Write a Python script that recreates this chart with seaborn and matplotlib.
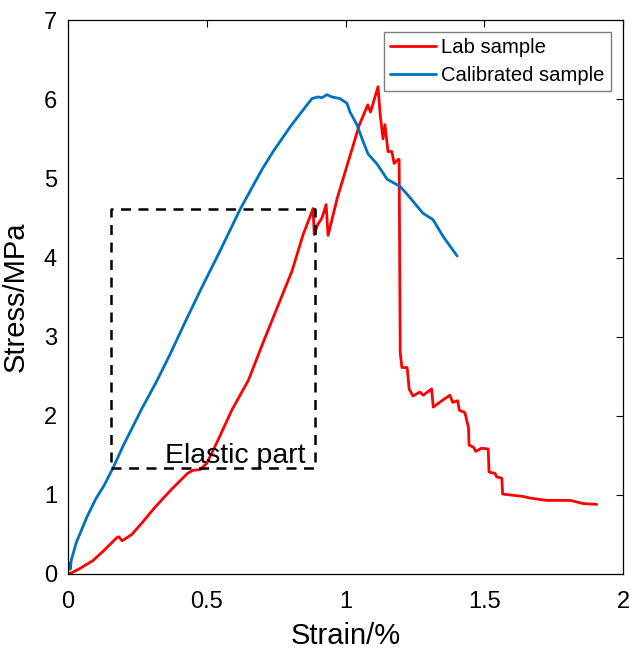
import matplotlib
matplotlib.use("Agg")
import matplotlib.pyplot as plt
import seaborn as sns
import pandas as pd

# Lab sample curve (strain %, stress MPa)
lab_strain = [0, 0.01, 0.043, 0.09, 0.13, 0.176, 0.183, 0.195, 0.23, 0.27, 0.31, 0.37,
              0.43, 0.45, 0.476, 0.50, 0.54, 0.59, 0.65, 0.70, 0.739, 0.807, 0.847, 0.87,
              0.883, 0.887, 0.90, 0.915, 0.93, 0.937, 0.97, 1.00, 1.05, 1.08, 1.09, 1.117,
              1.125, 1.135, 1.142, 1.153, 1.167, 1.175, 1.189, 1.193, 1.195, 1.197, 1.203,
              1.222, 1.229, 1.243, 1.268, 1.28, 1.31, 1.316, 1.347, 1.376, 1.386, 1.404,
              1.41, 1.43, 1.443, 1.445, 1.462, 1.469, 1.49, 1.514, 1.517, 1.539, 1.544,
              1.563, 1.566, 1.64, 1.665, 1.725, 1.81, 1.857, 1.905]
lab_stress = [0, 0.01, 0.07, 0.17, 0.30, 0.46, 0.47, 0.42, 0.50, 0.66, 0.83, 1.06,
              1.27, 1.31, 1.32, 1.40, 1.69, 2.07, 2.45, 2.90, 3.24, 3.83, 4.29, 4.50,
              4.62, 4.29, 4.42, 4.50, 4.67, 4.28, 4.75, 5.10, 5.68, 5.93, 5.84, 6.16,
              5.80, 5.50, 5.68, 5.34, 5.34, 5.19, 5.24, 5.24, 4.00, 2.80, 2.61,
              2.61, 2.34, 2.25, 2.30, 2.26, 2.34, 2.11, 2.19, 2.26, 2.17, 2.19,
              2.07, 2.04, 1.85, 1.63, 1.60, 1.55, 1.59, 1.58, 1.29, 1.27, 1.23,
              1.21, 1.01, 0.98, 0.96, 0.93, 0.93, 0.89, 0.88]

# Calibrated sample curve
cal_strain = [0, 0.004, 0.008, 0.012, 0.03, 0.068, 0.10, 0.13, 0.162, 0.20, 0.266, 0.32,
              0.368, 0.42, 0.476, 0.55, 0.62, 0.656, 0.70, 0.739, 0.80, 0.85, 0.879, 0.901,
              0.915, 0.933, 0.951, 0.98, 1.005, 1.016, 1.041, 1.063, 1.081, 1.114, 1.15,
              1.196, 1.222, 1.279, 1.315, 1.351, 1.402]
cal_stress = [0.05, 0.14, 0.06, 0.18, 0.40, 0.72, 0.95, 1.12, 1.34, 1.63, 2.09, 2.44,
              2.78, 3.17, 3.58, 4.10, 4.61, 4.84, 5.12, 5.34, 5.65, 5.88, 6.01, 6.03,
              6.02, 6.06, 6.03, 6.01, 5.95, 5.84, 5.68, 5.47, 5.31, 5.18, 4.99,
              4.90, 4.80, 4.56, 4.48, 4.27, 4.02]

# dashed "elastic part" box corners
box_strain = [0.155, 0.89]
box_stress = [1.335, 4.62]

series_names = ["Lab sample", "Calibrated sample"]
colors = {"Lab sample": "#FF0000", "Calibrated sample": "#0072BD"}

df = pd.concat([
    pd.DataFrame({"strain": lab_strain, "stress": lab_stress, "sample": series_names[0]}),
    pd.DataFrame({"strain": cal_strain, "stress": cal_stress, "sample": series_names[1]}),
], ignore_index=True)

sns.set_style("white")
plt.rcParams['font.family'] = ['Liberation Sans', 'DejaVu Sans']
plt.rcParams.update({"text.color": "black", "axes.labelcolor": "black",
                     "xtick.color": "black", "ytick.color": "black"})

fig = plt.figure(figsize=(6.3, 6.53), dpi=100)
ax = fig.add_axes([0.108, 0.121, 0.881, 0.848])

sns.lineplot(data=df, x="strain", y="stress", hue="sample", hue_order=series_names,
             palette=colors, sort=False, estimator=None, linewidth=2, ax=ax)

# elastic part box
bx = [box_strain[0], box_strain[1], box_strain[1], box_strain[0], box_strain[0]]
by = [box_stress[0], box_stress[0], box_stress[1], box_stress[1], box_stress[0]]
ax.plot(bx, by, color="black", linestyle=(0, (4, 3)), linewidth=1.8)
ax.text(0.35, 1.40, "Elastic part", fontsize=20.5, ha="left", va="baseline")

ax.set_xlim(0, 2)
ax.set_ylim(0, 7)
ax.set_xticks([0, 0.5, 1, 1.5, 2])
ax.set_xticklabels(["0", "0.5", "1", "1.5", "2"])
ax.set_yticks(range(0, 8))
ax.tick_params(direction="in", top=True, right=True, length=5, width=0.8,
               labelsize=17)
ax.tick_params(axis="x", pad=12)
ax.tick_params(axis="y", pad=8)
for s in ax.spines.values():
    s.set_color("black")
    s.set_linewidth(0.9)

ax.set_xlabel("Strain/%", fontsize=21, labelpad=7)
ax.set_ylabel("Stress/MPa", fontsize=21, labelpad=10)

leg = ax.legend(loc="upper right", fontsize=14.6, fancybox=False, framealpha=1,
                edgecolor="#7f7f7f", handlelength=2.3, borderaxespad=0.6,
                borderpad=0.3, labelspacing=0.4, handletextpad=0.25)
leg.get_frame().set_linewidth(1)

fig.savefig("out.png", dpi=100)
